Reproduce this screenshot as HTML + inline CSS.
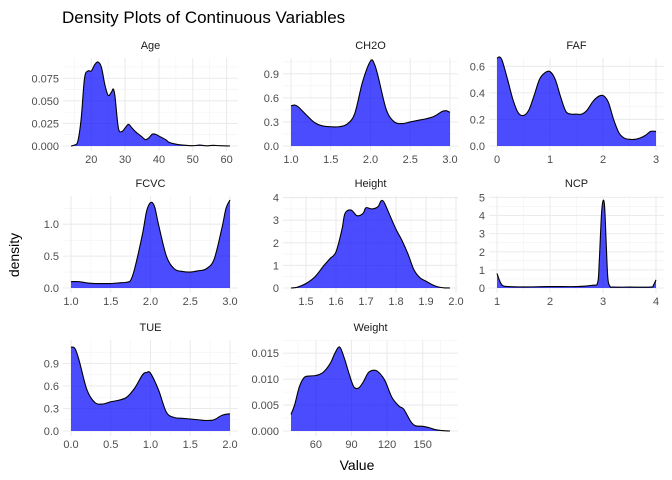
<!DOCTYPE html>
<html><head><meta charset="utf-8"><style>
body{margin:0;background:#fff;}
svg{display:block;font-family:"Liberation Sans",sans-serif;}
</style></head><body>
<svg id="c" width="672" height="480">
<text x="62" y="23" font-size="17" fill="#000">Density Plots of Continuous Variables</text>
<text x="357" y="470" font-size="14" fill="#000" text-anchor="middle">Value</text>
<text transform="translate(19,255) rotate(-90)" font-size="14" fill="#000" text-anchor="middle">density</text>
</svg>
<script>
const panelNames=["Age","CH2O","FAF","FCVC","Height","NCP","TUE","Weight"];
const ageData=[[14,0],[15,0.001],[16,0.005],[17,0.03],[18,0.075],[19,0.083],[20,0.083],[21,0.09],[22,0.093],[23,0.087],[24,0.068],[25,0.056],[26,0.06],[26.5,0.063],[27,0.055],[28,0.02],[29,0.016],[30,0.02],[31,0.024],[32,0.02],[33,0.016],[34,0.013],[35,0.01],[36,0.007],[37,0.009],[38,0.013],[39,0.013],[40,0.011],[42,0.007],[43,0.004],[45,0.002],[47,0.001],[50,0.0003],[52,0.001],[54,0.0002],[56,0.0008],[58,0.0003],[61,0]];
const ch2oData=[[1,0.5],[1.05,0.51],[1.1,0.48],[1.2,0.38],[1.3,0.29],[1.4,0.25],[1.5,0.24],[1.6,0.24],[1.7,0.27],[1.8,0.4],[1.9,0.8],[2,1.06],[2.05,1.02],[2.1,0.85],[2.2,0.45],[2.3,0.3],[2.4,0.28],[2.5,0.3],[2.6,0.32],[2.7,0.34],[2.8,0.37],[2.9,0.43],[2.95,0.44],[3,0.42]];
const fafData=[[0,0.66],[0.05,0.67],[0.1,0.64],[0.2,0.5],[0.3,0.35],[0.4,0.25],[0.5,0.23],[0.6,0.27],[0.7,0.38],[0.8,0.5],[0.9,0.55],[1,0.56],[1.1,0.5],[1.2,0.37],[1.3,0.26],[1.4,0.24],[1.5,0.24],[1.6,0.24],[1.7,0.27],[1.8,0.33],[1.9,0.37],[2,0.38],[2.1,0.33],[2.2,0.2],[2.3,0.1],[2.4,0.06],[2.5,0.05],[2.6,0.05],[2.7,0.06],[2.8,0.08],[2.9,0.11],[3,0.11]];
const fcvcData=[[1,0.1],[1.1,0.1],[1.2,0.08],[1.3,0.07],[1.4,0.07],[1.5,0.07],[1.6,0.08],[1.7,0.09],[1.75,0.12],[1.8,0.3],[1.9,0.85],[1.95,1.2],[2,1.34],[2.05,1.28],[2.1,1.0],[2.2,0.5],[2.3,0.3],[2.4,0.26],[2.5,0.25],[2.6,0.27],[2.7,0.3],[2.8,0.45],[2.9,0.95],[2.95,1.25],[3,1.38]];
const heightData=[[1.45,0],[1.47,0.03],[1.5,0.2],[1.53,0.5],[1.56,1.0],[1.58,1.3],[1.6,1.6],[1.62,2.6],[1.63,3.3],[1.65,3.45],[1.67,3.2],[1.69,3.3],[1.7,3.55],[1.72,3.5],[1.74,3.6],[1.75,3.85],[1.76,3.8],[1.78,3.2],[1.8,2.6],[1.82,2.1],[1.84,1.5],[1.86,0.8],[1.88,0.45],[1.9,0.3],[1.92,0.15],[1.94,0.05],[1.96,0.01],[1.98,0]];
const ncpData=[[1,0.8],[1.05,0.4],[1.1,0.15],[1.2,0.08],[1.5,0.06],[2,0.08],[2.5,0.08],[2.8,0.15],[2.9,0.3],[2.93,1.5],[2.97,4.0],[3,4.8],[3.03,4.5],[3.06,2.5],[3.09,0.6],[3.13,0.1],[3.2,0.05],[3.5,0.05],[3.9,0.05],[3.95,0.15],[4,0.45]];
const tueData=[[0,1.12],[0.05,1.1],[0.1,0.95],[0.2,0.55],[0.3,0.38],[0.4,0.36],[0.5,0.39],[0.6,0.41],[0.7,0.45],[0.8,0.57],[0.9,0.75],[0.95,0.78],[1,0.77],[1.1,0.55],[1.2,0.25],[1.3,0.18],[1.4,0.17],[1.5,0.16],[1.6,0.15],[1.7,0.14],[1.8,0.15],[1.9,0.21],[2,0.23]];
const weightData=[[39,0.0032],[42,0.005],[46,0.0085],[50,0.0103],[54,0.0106],[60,0.0107],[66,0.0113],[72,0.013],[76,0.015],[80,0.0162],[84,0.014],[88,0.011],[92,0.0085],[96,0.0083],[100,0.0095],[104,0.0112],[108,0.0117],[112,0.0115],[118,0.0098],[124,0.0065],[130,0.0048],[134,0.0042],[140,0.0018],[144,0.001],[150,0.0009],[156,0.0006],[160,0.0003],[165,0.0001],[173,0]];
const xTicks=[[20,30,40,50,60],[1,1.5,2,2.5,3],[0,1,2,3],[1,1.5,2,2.5,3],[1.5,1.6,1.7,1.8,1.9,2.0],[1,2,3,4],[0,0.5,1,1.5,2],[60,90,120,150]];
const xTickLabels=[["20","30","40","50","60"],["1.0","1.5","2.0","2.5","3.0"],["0","1","2","3"],["1.0","1.5","2.0","2.5","3.0"],["1.5","1.6","1.7","1.8","1.9","2.0"],["1","2","3","4"],["0.0","0.5","1.0","1.5","2.0"],["60","90","120","150"]];
const yTicks=[[0,0.025,0.05,0.075],[0,0.3,0.6,0.9],[0,0.2,0.4,0.6],[0,0.5,1.0],[0,1,2,3,4],[0,1,2,3,4,5],[0,0.3,0.6,0.9],[0,0.005,0.01,0.015]];
const yTickLabels=[["0.000","0.025","0.050","0.075"],["0.0","0.3","0.6","0.9"],["0.0","0.2","0.4","0.6"],["0.0","0.5","1.0"],["0","1","2","3","4"],["0","1","2","3","4","5"],["0.0","0.3","0.6","0.9"],["0.000","0.005","0.010","0.015"]];
const allData=[ageData,ch2oData,fafData,fcvcData,heightData,ncpData,tueData,weightData];
const cols=[{l:63,r:238,d0:71,d1:230},{l:283,r:458,d0:291,d1:450},{l:489,r:664,d0:497,d1:656}];
const rows=[{t:58,b:151,z:146},{t:196,b:293,z:288},{t:340,b:436,z:431}];
const yTop=[62,61,57,200,201,201,347,347];
const NS="http://www.w3.org/2000/svg";
const svg=document.getElementById('c');
function mk(tag,attrs,parent){const e=document.createElementNS(NS,tag);for(const k in attrs)e.setAttribute(k,attrs[k]);(parent||svg).appendChild(e);return e;}
allData.forEach((data,i)=>{
  const c=cols[i%3],r=rows[Math.floor(i/3)];
  const xmin=data[0][0],xmax=data[data.length-1][0];
  const ymax=Math.max(...data.map(p=>p[1]));
  const xs=v=>c.d0+(v-xmin)/(xmax-xmin)*(c.d1-c.d0);
  const ys=v=>r.z-(v/ymax)*(r.z-yTop[i]);
  const g=mk('g',{});
  
  
  const xt=xTicks[i],yt=yTicks[i];
  const xstep=xt[1]-xt[0],ystep=yt[1]-yt[0];
  for(let v=xt[0]-xstep/2;v<=xt[xt.length-1]+xstep;v+=xstep){const px=xs(v);if(px>=c.l&&px<=c.r)mk('line',{x1:px,x2:px,y1:r.t,y2:r.b,stroke:'#f2f2f2','stroke-width':0.6},g);}
  for(let v=ystep/2;v<=yt[yt.length-1]+ystep;v+=ystep){const py=ys(v);if(py>=r.t&&py<=r.b)mk('line',{x1:c.l,x2:c.r,y1:py,y2:py,stroke:'#f2f2f2','stroke-width':0.6},g);}
  xt.forEach((v,k)=>{const px=xs(v);mk('line',{x1:px,x2:px,y1:r.t,y2:r.b,stroke:'#ebebeb','stroke-width':1.1},g);
    const t=mk('text',{x:px,y:r.b+12,'font-size':11,fill:'#4d4d4d','text-anchor':'middle'},g);t.textContent=xTickLabels[i][k];
    
    });
  yt.forEach((v,k)=>{const py=ys(v);mk('line',{x1:c.l,x2:c.r,y1:py,y2:py,stroke:'#ebebeb','stroke-width':1.1},g);
    const t=mk('text',{x:c.l-4,y:py+4,'font-size':11,fill:'#4d4d4d','text-anchor':'end'},g);t.textContent=yTickLabels[i][k];
    
    });
  const pts=data.map(p=>[xs(p[0]),ys(p[1])]);
  let d='M'+pts[0][0]+','+pts[0][1];
  for(let k=0;k<pts.length-1;k++){const p0=pts[k-1]||pts[k],p1=pts[k],p2=pts[k+1],p3=pts[k+2]||p2;
    const c1=[p1[0]+(p2[0]-p0[0])/6,p1[1]+(p2[1]-p0[1])/6],c2=[p2[0]-(p3[0]-p1[0])/6,p2[1]-(p3[1]-p1[1])/6];
    d+=`C${c1[0]},${Math.min(c1[1],r.z)} ${c2[0]},${Math.min(c2[1],r.z)} ${p2[0]},${p2[1]}`;}
  const area=mk('path',{d:d+`L${pts[pts.length-1][0]},${r.z}L${pts[0][0]},${r.z}Z`,fill:'rgba(0,0,255,0.7)'},g);
  
  
  const line=mk('path',{d:d,fill:'none',stroke:'#000','stroke-width':1.1},g);
  
  
  const st=mk('text',{x:(c.l+c.r)/2,y:r.t-9,'font-size':11,fill:'#1a1a1a','text-anchor':'middle'},g);
  st.textContent=panelNames[i];
  
  
});
</script>
</body></html>
